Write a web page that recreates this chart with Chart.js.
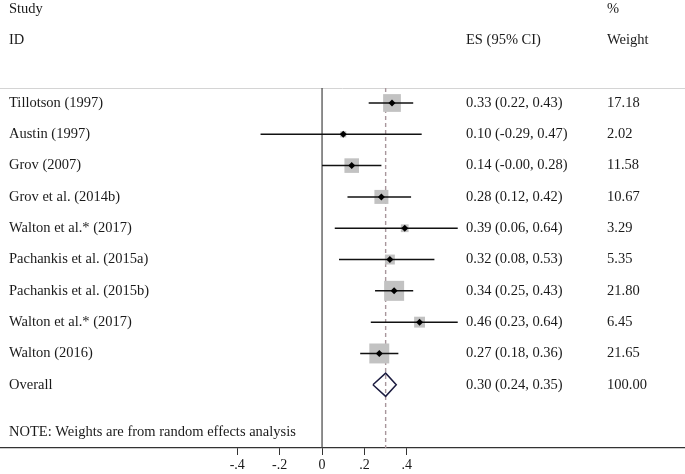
<!DOCTYPE html>
<html>
<head>
<meta charset="utf-8">
<script src="https://cdn.jsdelivr.net/npm/chart.js@4"></script>
<style>
  body { margin: 0; background: #fff; }
  #wrap { width: 685px; height: 474px; }
</style>
</head>
<body>
<div id="wrap"><canvas id="c" width="685" height="474"></canvas></div>
<script>
// study rows, top to bottom
var studies = ['Tillotson (1997)', 'Austin (1997)', 'Grov (2007)', 'Grov et al. (2014b)',
    'Walton et al.* (2017)', 'Pachankis et al. (2015a)', 'Pachankis et al. (2015b)',
    'Walton et al.* (2017)', 'Walton (2016)'];
var es = [0.33, 0.10, 0.14, 0.28, 0.39, 0.32, 0.34, 0.46, 0.27];
var lower = [0.22, -0.29, -0.00, 0.12, 0.06, 0.08, 0.25, 0.23, 0.18];
var upper = [0.43, 0.47, 0.28, 0.42, 0.64, 0.53, 0.43, 0.64, 0.36];
var weights = [17.18, 2.02, 11.58, 10.67, 3.29, 5.35, 21.80, 6.45, 21.65];
var overall = { label: 'Overall', es: 0.30, lower: 0.24, upper: 0.35, weight: 100.00 };
var tickValues = [-0.4, -0.2, 0, 0.2, 0.4];

var serif = '"Liberation Serif", "DejaVu Serif", serif';
var overallRow = studies.length;
var topRow = -0.48;
var bottomRow = 11.02;

function fmt(v) {
    var s = Math.abs(v).toFixed(2);
    return (v < 0 || (v === 0 && 1 / v < 0) ? '-' : '') + s;
}
function esText(i) {
    return es[i].toFixed(2) + ' (' + fmt(lower[i]) + ', ' + upper[i].toFixed(2) + ')';
}

var datasets = [];

// point estimates
datasets.push({
    type: 'scatter',
    data: es.map(function (v, i) { return { x: v, y: i }; }),
    pointStyle: 'rectRot',
    pointRadius: 3.5,
    backgroundColor: '#000',
    borderColor: '#000',
    borderWidth: 0,
    order: 0
});

// confidence intervals
es.forEach(function (v, i) {
    datasets.push({
        type: 'line',
        data: [{ x: lower[i], y: i }, { x: upper[i], y: i }],
        borderColor: '#111',
        borderWidth: 1.5,
        pointRadius: 0,
        order: 1
    });
});

// weight boxes
datasets.push({
    type: 'scatter',
    data: es.map(function (v, i) { return { x: v, y: i }; }),
    pointStyle: 'rect',
    pointRadius: weights.map(function (w) { return 14.1 * Math.sqrt(w / 21.65); }),
    backgroundColor: '#c2c2c2',
    borderWidth: 0,
    order: 2
});

// overall diamond
datasets.push({
    type: 'line',
    data: [
        { x: overall.lower, y: overallRow },
        { x: overall.es, y: overallRow - 0.37 },
        { x: overall.upper, y: overallRow },
        { x: overall.es, y: overallRow + 0.37 },
        { x: overall.lower, y: overallRow }
    ],
    borderColor: '#1c1c40',
    borderWidth: 1.5,
    pointRadius: 0,
    fill: false,
    order: 1
});

// null line and overall effect line
datasets.push({
    type: 'line',
    data: [{ x: 0, y: topRow }, { x: 0, y: bottomRow }],
    borderColor: '#444',
    borderWidth: 1.2,
    pointRadius: 0,
    order: 3
});
datasets.push({
    type: 'line',
    data: [{ x: overall.es, y: topRow }, { x: overall.es, y: bottomRow }],
    borderColor: '#a8969c',
    borderWidth: 1.4,
    borderDash: [4, 3],
    pointRadius: 0,
    order: 3
});

var textPlugin = {
    id: 'forestText',
    beforeDraw: function (chart) {
        var ctx = chart.ctx;
        ctx.save();
        ctx.fillStyle = '#fff';
        ctx.fillRect(0, 0, chart.width, chart.height);
        var y = chart.scales.y;
        var a = chart.chartArea;
        ctx.strokeStyle = '#d4d4d4';
        ctx.lineWidth = 1;
        ctx.beginPath();
        ctx.moveTo(a.left, Math.round(y.getPixelForValue(topRow)) + 0.5);
        ctx.lineTo(a.right, Math.round(y.getPixelForValue(topRow)) + 0.5);
        ctx.stroke();
        ctx.restore();
    },
    afterDatasetsDraw: function (chart) {
        var ctx = chart.ctx;
        var y = chart.scales.y;
        ctx.save();
        ctx.fillStyle = '#1a1a1a';
        ctx.font = '14.5px ' + serif;
        ctx.textBaseline = 'middle';
        ctx.textAlign = 'left';
        ctx.fillText('Study', 9, y.getPixelForValue(-3));
        ctx.fillText('ID', 9, y.getPixelForValue(-2));
        ctx.fillText('ES (95% CI)', 466, y.getPixelForValue(-2));
        ctx.fillText('%', 607, y.getPixelForValue(-3));
        ctx.fillText('Weight', 607, y.getPixelForValue(-2));
        studies.forEach(function (s, i) {
            var py = y.getPixelForValue(i);
            ctx.fillText(s, 9, py);
            ctx.fillText(esText(i), 466, py);
            ctx.fillText(weights[i].toFixed(2), 607, py);
        });
        var po = y.getPixelForValue(overallRow);
        ctx.fillText(overall.label, 9, po);
        ctx.fillText(overall.es.toFixed(2) + ' (' + overall.lower.toFixed(2) + ', ' + overall.upper.toFixed(2) + ')', 466, po);
        ctx.fillText(overall.weight.toFixed(2), 607, po);
        ctx.fillText('NOTE: Weights are from random effects analysis', 9, y.getPixelForValue(10.53));
        ctx.restore();
    }
};

new Chart(document.getElementById('c'), {
    data: { datasets: datasets },
    options: {
        responsive: false,
        animation: false,
        layout: { padding: 0, autoPadding: false },
        plugins: { legend: { display: false }, tooltip: { enabled: false } },
        scales: {
            x: {
                type: 'linear',
                min: -1.519,
                max: 1.712,
                afterBuildTicks: function (scale) {
                    scale.ticks = tickValues.map(function (v) { return { value: v }; });
                },
                afterFit: function (scale) { scale.height = 26; },
                grid: { drawOnChartArea: false, drawTicks: true, tickLength: 7, color: '#333', lineWidth: 1 },
                border: { display: true, color: '#333', width: 1.2 },
                ticks: {
                    padding: 2,
                    color: '#1a1a1a',
                    font: { family: serif, size: 14 },
                    maxRotation: 0,
                    callback: function (v) {
                        if (v === 0) return '0';
                        return (v < 0 ? '-' : '') + String(Math.abs(+v.toFixed(1))).replace(/^0/, '');
                    }
                }
            },
            y: {
                type: 'linear',
                display: false,
                reverse: true,
                min: -3.29,
                max: bottomRow
            }
        }
    },
    plugins: [textPlugin]
});
</script>
</body>
</html>
